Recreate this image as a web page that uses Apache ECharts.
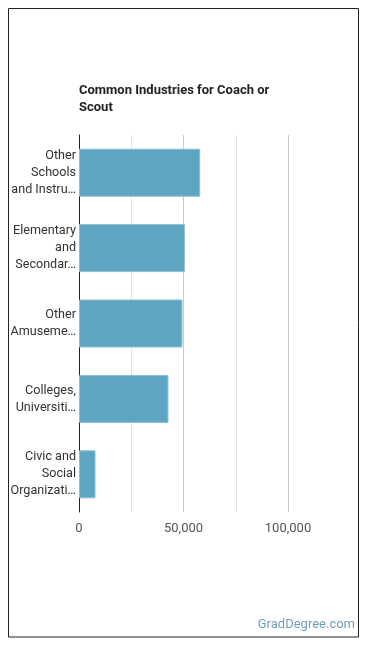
<!DOCTYPE html>
<html>
<head>
<meta charset="utf-8">
<script src="https://cdn.jsdelivr.net/npm/echarts@6/dist/echarts.min.js"></script>
<style>
  html, body { margin: 0; padding: 0; background: #fff; }
  #chart { width: 370px; height: 648px; }
</style>
</head>
<body>
<div id="chart"></div>
<script>
const industries = [
  'Other Schools and Instruction',
  'Elementary and Secondary Schools',
  'Other Amusement and Recreation Industries',
  'Colleges, Universities, and Professional Schools',
  'Civic and Social Organizations'
];
const employees = [58000, 50700, 49500, 42800, 7900];
const tickValues = [0, 50000, 100000];

const labelFont = '12.6px Roboto';
const ctx = document.createElement('canvas').getContext('2d');
ctx.font = labelFont;
const maxW = 66;
const fits = (s) => ctx.measureText(s).width <= maxW;
const trunc = (s) => {
  if (fits(s)) return s;
  let t = s;
  while (t.length > 1 && !fits(t + '…')) t = t.slice(0, -1);
  return t.replace(/\s+$/, '') + '…';
};

// wrap into at most 3 lines, cut the rest with an ellipsis
const wrapLabel = (name) => {
  const words = name.split(' ');
  const lines = [];
  let cur = '';
  for (let i = 0; i < words.length; i++) {
    const test = cur ? cur + ' ' + words[i] : words[i];
    if (fits(test)) { cur = test; continue; }
    if (cur) { lines.push(cur); }
    cur = words[i];
    if (lines.length === 2 || !fits(cur)) {
      lines.push(trunc(words.slice(i).join(' ')));
      return lines.join('\n');
    }
  }
  if (cur) lines.push(cur);
  return lines.join('\n');
};

const myChart = echarts.init(document.getElementById('chart'));
const option = {
  animation: false,
  title: {
    text: 'Common Industries for Coach or\nScout',
    left: 79,
    top: 82,
    padding: 0,
    textStyle: {
      fontFamily: 'Roboto',
      fontSize: 13,
      fontWeight: 'bold',
      color: '#222',
      lineHeight: 17
    }
  },
  grid: {
    left: 79,
    right: 82,
    top: 135,
    bottom: 136,
    containLabel: false
  },
  xAxis: {
    type: 'value',
    min: 0,
    max: 100000,
    interval: 50000,
    axisLine: { show: false },
    axisTick: { show: false },
    axisLabel: {
      color: '#555',
      fontFamily: 'Roboto',
      fontSize: 13,
      margin: 10,
      formatter: (v) => tickValues.includes(v) ? v.toLocaleString('en-US') : ''
    },
    splitLine: { show: true, lineStyle: { color: '#cccccc', width: 1 } },
    minorTick: { show: false, splitNumber: 2 },
    minorSplitLine: { show: true, lineStyle: { color: '#e4e4e4', width: 1 } }
  },
  yAxis: {
    type: 'category',
    inverse: true,
    data: industries,
    axisLine: { show: true, lineStyle: { color: '#222', width: 1 } },
    axisTick: { show: false },
    axisLabel: {
      color: '#333',
      fontFamily: 'Roboto',
      fontSize: 12.6,
      lineHeight: 17,
      margin: 3,
      align: 'right',
      formatter: (v) => wrapLabel(v)
    }
  },
  series: [
    {
      type: 'bar',
      data: employees,
      barWidth: 48,
      itemStyle: {
        color: '#5ea5c2',
        borderColor: '#8cc0d5',
        borderWidth: 1
      }
    }
  ],
  graphic: [
    {
      type: 'rect',
      shape: { x: 8.5, y: 8.5, width: 350, height: 628.5 },
      style: { fill: 'none', stroke: '#222', lineWidth: 1 },
      silent: true
    },
    {
      type: 'text',
      right: 15,
      top: 618,
      style: {
        text: 'GradDegree.com',
        fill: '#6f9fb8',
        font: '13px Roboto'
      }
    }
  ]
};
myChart.setOption(option);
</script>
</body>
</html>
